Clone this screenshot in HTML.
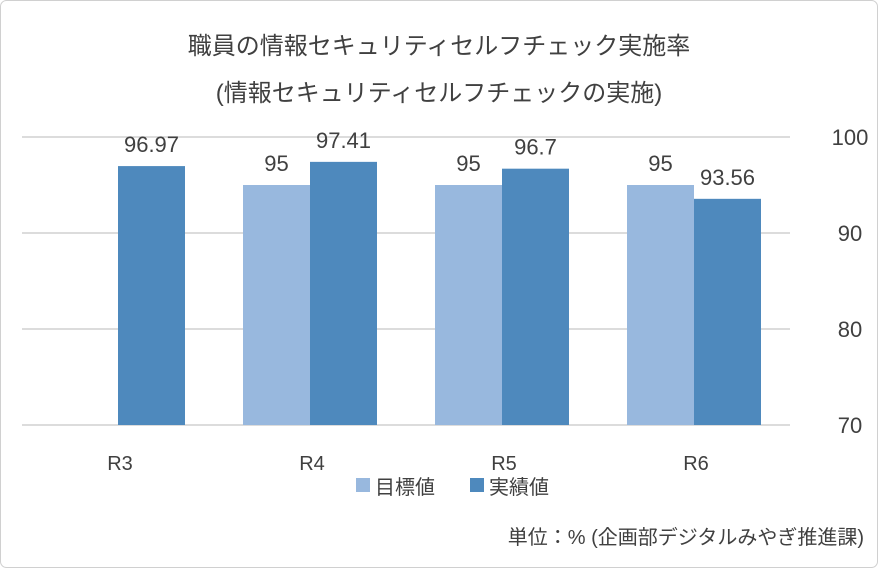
<!DOCTYPE html>
<html><head><meta charset="utf-8"><style>
body{margin:0;background:#fff;}
svg text{font-family:"Liberation Sans","Noto Sans CJK JP",sans-serif;fill:#404040;}
</style></head><body>
<svg width="878" height="568">
<rect x="0.5" y="0.5" width="877" height="567" rx="6" fill="#fff" stroke="#d0d0d0"/>
<text x="439" y="54" font-size="24" text-anchor="middle">職員の情報セキュリティセルフチェック実施率</text>
<text x="439" y="101" font-size="24" text-anchor="middle">(情報セキュリティセルフチェックの実施)</text>
<g id="grid"></g><g id="bars"></g><g id="labels"></g>
<rect x="356" y="478" width="14" height="14" fill="#98b8de"/>
<text x="375" y="494" font-size="20">目標値</text>
<rect x="470" y="478" width="14" height="14" fill="#4e89bd"/>
<text x="489" y="494" font-size="20">実績値</text>
<text x="864" y="544" font-size="20" text-anchor="end">単位：% (企画部デジタルみやぎ推進課)</text>
</svg>
<script>
const categories=["R3","R4","R5","R6"];
const targetValues=[null,95,95,95];
const actualValues=[96.97,97.41,96.7,93.56];
const tickValues=[70,80,90,100];
const ns="http://www.w3.org/2000/svg";
const yMin=70,yMax=100,y0=425,y1=137,xL=22,xR=790;
const y=v=>y0-(v-yMin)/(yMax-yMin)*(y0-y1);
const bw=(xR-xL)/categories.length;
const cx=i=>xL+bw*(i+0.5);
const barW=67;
function mk(t,a,p){const e=document.createElementNS(ns,t);for(const k in a)e.setAttribute(k,a[k]);p.appendChild(e);return e;}
const grid=document.getElementById('grid'),bars=document.getElementById('bars'),labels=document.getElementById('labels');
tickValues.forEach(t=>{
 const l=mk('line',{x1:xL,x2:xR,y1:y(t),y2:y(t),stroke:'#d0d0d0','stroke-width':1.5},grid);
 
 
 const tx=mk('text',{x:850,y:y(t)+8,'font-size':22,'text-anchor':'middle'},grid);tx.textContent=t;
 
 
});
categories.forEach((c,i)=>{
 const tx=mk('text',{x:cx(i)+2,y:470,'font-size':20,'text-anchor':'middle'},labels);tx.textContent=c;
 
 
 if(targetValues[i]!=null){
  const v=targetValues[i];
  const r=mk('rect',{x:cx(i)-barW,y:y(v),width:barW,height:y0-y(v),fill:'#98b8de'},bars);
  
  
  const t=mk('text',{x:cx(i)-barW/2,y:y(v)-14,'font-size':22,'text-anchor':'middle'},labels);t.textContent=v;
  
  
 }
 const v=actualValues[i];
 const r=mk('rect',{x:cx(i),y:y(v),width:barW,height:y0-y(v),fill:'#4e89bd'},bars);
 
 
 const t=mk('text',{x:cx(i)+barW/2,y:y(v)-14,'font-size':22,'text-anchor':'middle'},labels);t.textContent=v;
 
 
});
</script>
</body></html>
